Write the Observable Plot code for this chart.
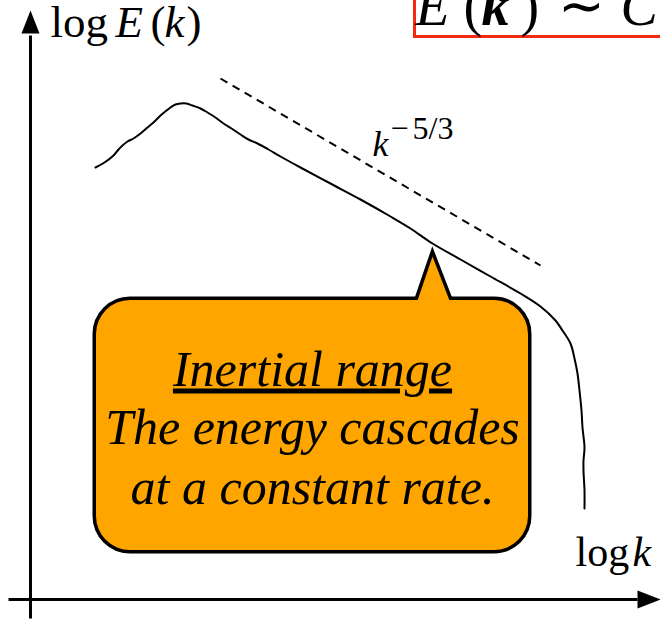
<!DOCTYPE html>
<html>
<head>
<meta charset="utf-8">
<script src="https://cdn.jsdelivr.net/npm/d3@7"></script>
<script src="https://cdn.jsdelivr.net/npm/@observablehq/plot@0.6"></script>
<style>
  html, body { margin: 0; padding: 0; background: white; }
</style>
</head>
<body>
<script>
// ---- Data (chart units: log k to the right, log E upward) ----
const spectrumK = [65, 74, 83, 88, 92, 97, 103, 110, 117, 124, 130, 136, 140, 145, 150, 156, 162, 170, 177, 185, 193, 201, 210, 218, 227, 238, 250, 270, 300, 330, 360, 380, 402, 430, 460, 490, 510, 525, 532, 540, 544, 547, 549, 551, 552, 554, 553, 553, 554, 554];
const spectrumE = [432, 437, 444, 450, 454, 458, 461, 466, 472, 478, 484, 489, 492, 495, 496, 496, 494, 491, 487, 482, 476, 471, 465, 460, 456, 450, 443, 432, 416, 400, 383, 371, 356, 340, 323, 306, 293, 279, 269, 256, 241, 226, 209, 189, 172, 152, 139, 129, 109, 91];

const slopeK = [190, 510];
const slopeE = [521, 334];

// axes (extent and arrow tips)
const axisXRange = [-22, 607];  const axisXTip = 630;
const axisYRange = [-19, 564];  const axisYTip = 589;
const arrowLength = 23, arrowHalf = 9;

// callout
const calloutBox = {x1: 66, x2: 498, y1: 49, y2: 299, r: 34};
const calloutTipK = [387, 402, 419];
const calloutTipE = [299, 343, 299];

const calloutLines = ["Inertial range", "The energy cascades", "at a constant rate."];
const calloutLineE = [214, 156, 96];
const calloutCenterK = 282;

// labels
const yLabelParts = ["log", "E", "(", "k", ")"];
const yLabelK = [20, 85, 120, 134, 156];
const yLabelItalic = [false, true, false, true, false];
const yLabelE = 563;

const xLabelParts = ["log", "k"];
const xLabelK = [545, 602];
const xLabelItalic = [false, true];
const xLabelE = 34;

const slopeBase = {t: "k", k: 342, E: 444};
const slopeExp = [{t: "\u2212", k: 360, E: 461}, {t: "5/3", k: 382, E: 461}];

// top-right formula box (cropped in the original)
const formulaParts = ["E", "(", "k", ")", "\u223C", "C"];
const formulaK = [385, 433, 451, 490, 527, 590];
const formulaStyle = ["italic", "normal", "bold-italic", "normal", "normal", "italic"];
const formulaE = 575;
const formulaBox = {x1: 384.5, x2: 720, y1: 562.5, y2: 660};

// ---- build tables ----
const spectrum = spectrumK.map((k, i) => ({k, E: spectrumE[i]}));
const slope = slopeK.map((k, i) => ({k, E: slopeE[i]}));
const tip = calloutTipK.map((k, i) => ({k, E: calloutTipE[i]}));
const xAxis = axisXRange.map(k => ({k, E: 0}));
const yAxis = axisYRange.map(E => ({k: 0, E}));
const xArrow = [{k: axisXTip - arrowLength, E: arrowHalf}, {k: axisXTip, E: 0}, {k: axisXTip - arrowLength, E: -arrowHalf}];
const yArrow = [{k: -arrowHalf, E: axisYTip - arrowLength}, {k: 0, E: axisYTip}, {k: arrowHalf, E: axisYTip - arrowLength}];
const callout = calloutLines.map((t, i) => ({t, k: calloutCenterK, E: calloutLineE[i]}));
const yLab = yLabelParts.map((t, i) => ({t, k: yLabelK[i], E: yLabelE, it: yLabelItalic[i]}));
const xLab = xLabelParts.map((t, i) => ({t, k: xLabelK[i], E: xLabelE, it: xLabelItalic[i]}));
const formula = formulaParts.map((t, i) => ({t, k: formulaK[i], E: formulaE, s: formulaStyle[i]}));

const serif = "'Liberation Serif', 'Times New Roman', serif";
const ORANGE = "#ffa500";

const textPart = (data, style, size) => Plot.text(data, {
  x: "k", y: "E", text: "t", textAnchor: "start", lineAnchor: "bottom",
  fontSize: size, fontFamily: serif, fill: "black",
  fontStyle: style === "italic" || style === "bold-italic" ? "italic" : "normal",
  fontWeight: style === "bold-italic" ? "bold" : "normal"
});

const plot = Plot.plot({
  width: 660,
  height: 619,
  margin: 0,
  x: {domain: [-30, 630], range: [0, 660], axis: null},
  y: {domain: [-20, 599], range: [619, 0], axis: null},
  style: {background: "white", fontFamily: serif, overflow: "visible"},
  marks: [
    // formula box
    Plot.rect([formulaBox], {x1: "x1", x2: "x2", y1: "y1", y2: "y2", fill: "none", stroke: "#f42a10", strokeWidth: 3}),
    ...formula.map(d => textPart([d], d.s, 56)),

    // axes
    Plot.line(xAxis, {x: "k", y: "E", stroke: "black", strokeWidth: 3, strokeLinecap: "butt"}),
    Plot.line(yAxis, {x: "k", y: "E", stroke: "black", strokeWidth: 3, strokeLinecap: "butt"}),
    Plot.line(xArrow, {x: "k", y: "E", fill: "black", stroke: "none"}),
    Plot.line(yArrow, {x: "k", y: "E", fill: "black", stroke: "none"}),

    // spectrum and slope
    Plot.line(spectrum, {x: "k", y: "E", stroke: "black", strokeWidth: 2, curve: "catmull-rom"}),
    Plot.line(slope, {x: "k", y: "E", stroke: "black", strokeWidth: 2, strokeDasharray: "8,6", strokeLinecap: "butt"}),

    // callout outline (underlay) then fill
    Plot.rect([calloutBox], {x1: "x1", x2: "x2", y1: "y1", y2: "y2", rx: calloutBox.r, fill: "black", stroke: "black", strokeWidth: 7}),
    Plot.line(tip, {x: "k", y: "E", fill: "black", stroke: "black", strokeWidth: 7, strokeLinejoin: "miter", strokeMiterlimit: 20}),
    Plot.rect([calloutBox], {x1: "x1", x2: "x2", y1: "y1", y2: "y2", rx: calloutBox.r, fill: ORANGE, stroke: "none"}),
    Plot.line(tip, {x: "k", y: "E", fill: ORANGE, stroke: "none"}),

    Plot.text(callout, {x: "k", y: "E", text: "t", textAnchor: "middle", lineAnchor: "bottom",
      fontSize: 50, fontStyle: "italic", fontFamily: serif, fill: "black"}),

    // axis labels
    ...yLab.map(d => textPart([d], d.it ? "italic" : "normal", 45)),
    ...xLab.map(d => textPart([d], d.it ? "italic" : "normal", 42)),

    // slope label
    textPart([slopeBase], "italic", 36),
    textPart(slopeExp, "normal", 32)
  ]
});

d3.select(plot).selectAll("text")
  .filter(function() { return this.textContent === calloutLines[0]; })
  .style("text-decoration", "underline");

document.body.appendChild(plot);
</script>
</body>
</html>
